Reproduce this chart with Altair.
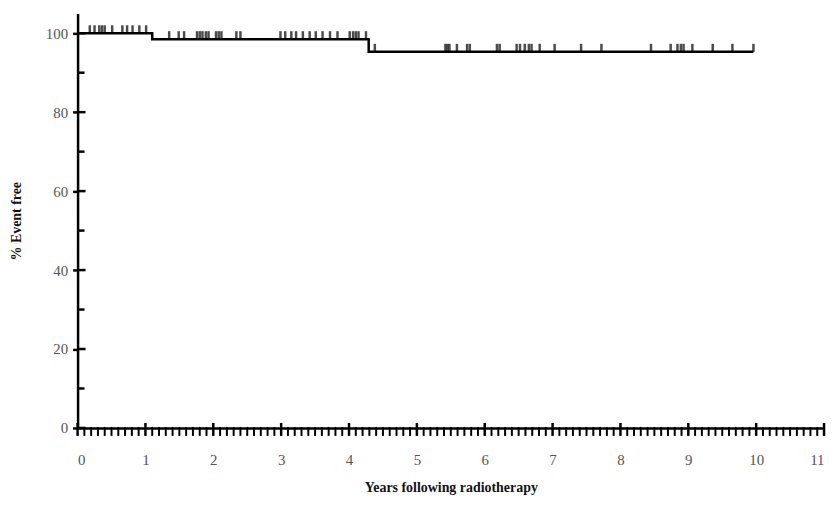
import altair as alt
import pandas as pd
import numpy as np

# Kaplan-Meier step curve
step_times = [0, 1.10, 4.29, 9.96]
step_surv = [100, 98.5, 95.3, 95.3]

# censored observations (years) on each level
censor_100 = [0.18, 0.25, 0.32, 0.36, 0.40, 0.51, 0.66, 0.73, 0.81, 0.91, 1.01]
censor_985 = [1.35, 1.49, 1.57, 1.76, 1.80, 1.84, 1.89, 1.93, 2.04, 2.08, 2.12,
              2.34, 2.40, 2.99, 3.06, 3.15, 3.22, 3.32, 3.42, 3.51, 3.61, 3.72,
              3.83, 4.01, 4.06, 4.10, 4.14, 4.25]
censor_953 = [4.38, 5.42, 5.45, 5.48, 5.59, 5.74, 5.78, 6.18, 6.22, 6.47, 6.52,
              6.59, 6.65, 6.69, 6.81, 7.03, 7.42, 7.72, 8.45, 8.74, 8.84, 8.89,
              8.93, 9.06, 9.36, 9.65, 9.96]

x_ticks = list(range(0, 12))
y_major = [0, 20, 40, 60, 80, 100]
y_minor = [10, 30, 50, 70, 90]

W, H = 751, 417
FONT = "Liberation Serif"

curve = pd.DataFrame({"t": step_times, "s": step_surv})
cens = pd.DataFrame({
    "t": censor_100 + censor_985 + censor_953,
    "s": [step_surv[0]] * len(censor_100) + [step_surv[1]] * len(censor_985)
         + [step_surv[2]] * len(censor_953),
})
hatch_minor = pd.DataFrame({"t": [round(v, 2) for v in np.arange(0.1, 11.0, 0.1)
                                  if abs(v - round(v)) > 1e-6]})
hatch_major = pd.DataFrame({"t": x_ticks})
ymaj = pd.DataFrame({"v": y_major})
ymin = pd.DataFrame({"v": y_minor})

xs = alt.Scale(domain=[0, 11], nice=False, zero=False)
ys = alt.Scale(domain=[0, 105], nice=False, zero=False)

xaxis = alt.Axis(values=x_ticks, format="d", tickSize=0, domainColor="black", domainWidth=2.5,
                 labelPadding=25, labelFont=FONT, labelFontSize=15, labelColor="#555",
                 title="Years following radiotherapy", titleFont=FONT, titleFontSize=14,
                 titleFontWeight="bold", titleColor="#111", titlePadding=13, grid=False)
yaxis = alt.Axis(values=y_major, format="d", tickSize=5, tickColor="black", tickWidth=2.5,
                 domainColor="black", domainWidth=2.5, labelPadding=5,
                 labelFont=FONT, labelFontSize=15, labelColor="#555",
                 title="% Event free", titleFont=FONT, titleFontSize=14,
                 titleFontWeight="bold", titleColor="#111", titlePadding=22, grid=False)

line = alt.Chart(curve).mark_line(interpolate="step-after", color="black", strokeWidth=2.5).encode(
    x=alt.X("t:Q", scale=xs, axis=xaxis),
    y=alt.Y("s:Q", scale=ys, axis=yaxis),
)

ticks = alt.Chart(cens).mark_tick(orient="vertical", color="black", thickness=2.5,
                                  size=8, yOffset=-4).encode(
    x=alt.X("t:Q", scale=xs), y=alt.Y("s:Q", scale=ys))

hmin = alt.Chart(hatch_minor).mark_rule(color="black", strokeWidth=2).encode(
    x=alt.X("t:Q", scale=xs), y=alt.value(H - 1), y2=alt.value(H + 8))
hmaj = alt.Chart(hatch_major).mark_rule(color="black", strokeWidth=2.5).encode(
    x=alt.X("t:Q", scale=xs), y=alt.value(H - 5), y2=alt.value(H + 8))

yin_maj = alt.Chart(ymaj).mark_rule(color="black", strokeWidth=2.5).encode(
    y=alt.Y("v:Q", scale=ys), x=alt.value(0), x2=alt.value(8))
yin_min = alt.Chart(ymin).mark_rule(color="black", strokeWidth=2.5).encode(
    y=alt.Y("v:Q", scale=ys), x=alt.value(0), x2=alt.value(7))

chart = alt.layer(line, ticks, hmin, hmaj, yin_maj, yin_min).properties(
    width=W, height=H,
    autosize=alt.AutoSizeParams(type="none"),
    padding={"left": 70, "top": 4, "right": 4, "bottom": 76},
    background="white",
).configure_view(stroke=None)

chart.save("out.html", embed_options={"renderer": "svg", "actions": False})
